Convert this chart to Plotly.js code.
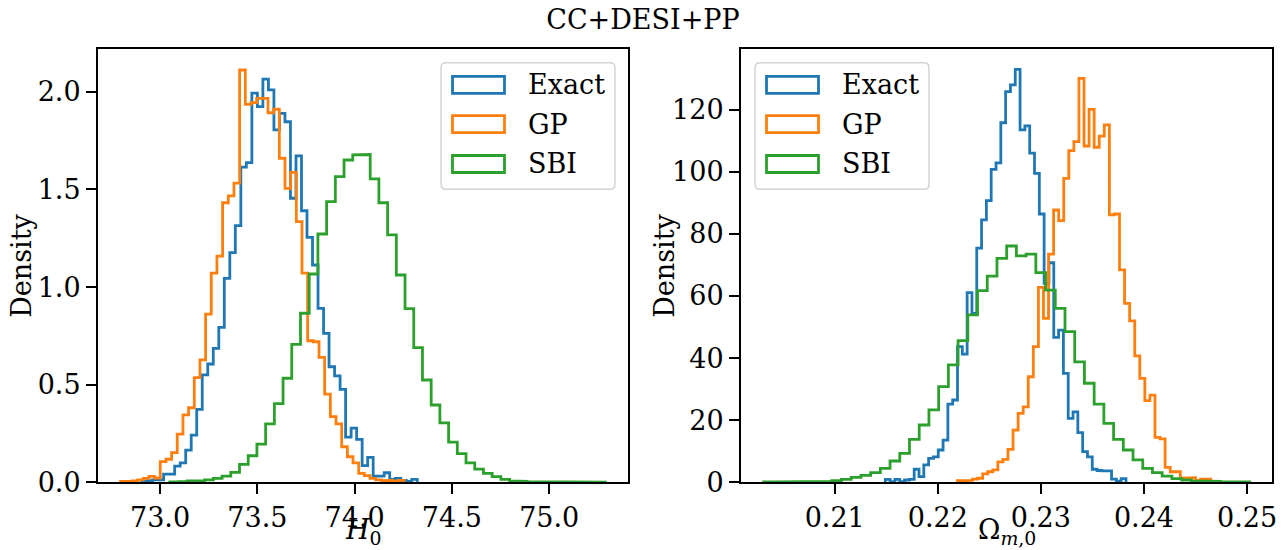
<!DOCTYPE html>
<html><head><meta charset="utf-8">
<script src="https://cdn.plot.ly/plotly-3.0.1.min.js"></script>
<style>html,body{margin:0;padding:0;background:#fff}#chart{width:1286px;height:550px}</style>
</head><body><div id="chart"></div>
<script>
// ---------------- data (density histograms, 50 bins each) ----------------
const seriesNames = ['Exact', 'GP', 'SBI'];
const seriesColors = ['#1f77b4', '#ff7f0e', '#2ca02c'];

// H0 panel: bin range [min, max] and densities
const H0_exact_range = [72.905, 74.322];
const H0_exact_density = [0.004,0.008,0.012,0.012,0.042,0.042,0.083,0.100,0.165,0.242,
  0.374,0.550,0.606,0.686,0.794,1.045,1.176,1.315,1.614,1.637,
  1.993,1.924,2.065,2.010,1.805,1.890,1.847,1.455,1.672,1.391,
  1.255,1.113,0.891,0.763,0.592,0.545,0.476,0.231,0.277,0.220,
  0.085,0.128,0.032,0.032,0.049,0.015,0.020,0.010,0.005,0.015];
const H0_gp_range = [72.797, 74.254];
const H0_gp_density = [0.004,0.005,0.007,0.012,0.020,0.030,0.022,0.106,0.118,0.152,
  0.247,0.345,0.382,0.536,0.627,0.861,1.071,1.159,1.432,1.467,
  1.532,2.112,1.936,1.945,1.967,1.967,1.893,1.911,1.660,1.506,
  1.588,1.335,1.071,0.725,0.720,0.640,0.452,0.336,0.299,0.182,
  0.131,0.100,0.046,0.034,0.020,0.012,0.008,0.010,0.006,0.010];
const H0_sbi_range = [73.050, 75.289];
const H0_sbi_density = [0.002,0.003,0.007,0.007,0.012,0.020,0.032,0.051,0.092,0.136,
  0.196,0.299,0.403,0.533,0.706,0.866,1.067,1.272,1.438,1.566,
  1.651,1.677,1.679,1.554,1.432,1.267,1.062,0.890,0.690,0.524,
  0.396,0.304,0.206,0.147,0.100,0.067,0.046,0.029,0.015,0.007,
  0.005,0.003,0.002,0.002,0.001,0.001,0.001,0.001,0.001,0.001];

// Omega_m0 panel
const Om_exact_range = [0.214908, 0.238254];
const Om_exact_density = [0.97,0.2,0.97,0.2,0.74,0.97,4.2,1.8,5.6,7.7,
  8.2,10.4,13.6,25.2,26.5,43.7,41.3,61.1,54.4,75.4,
  84.5,90.7,100.8,102.9,115.8,125.8,128.0,133.0,113.5,114.8,
  106.0,99.5,86.4,64.1,70.7,46.7,49.0,35.1,20.6,22.7,
  16.0,9.9,8.2,4.2,3.8,3.7,3.7,1.0,0.4,1.2];
const Om_gp_range = [0.221891, 0.246479];
const Om_gp_density = [0.5,0.5,0.6,1.0,1.3,2.7,3.4,4.0,6.6,7.4,
  10.6,16.8,22.2,24.3,34.0,43.7,62.8,52.8,73.5,87.7,
  84.3,97.9,106.8,109.7,130.1,108.3,120.1,107.9,111.5,115.1,
  86.1,86.4,68.4,57.6,52.0,40.7,33.5,26.3,28.1,14.5,
  14.0,4.8,3.4,3.4,1.3,1.5,1.5,0.6,1.0,1.0];
const Om_sbi_range = [0.203113, 0.250252];
const Om_sbi_density = [0.15,0.15,0.15,0.15,0.15,0.25,0.25,0.5,0.97,1.61,
  2.25,3.09,4.51,6.86,9.34,13.85,18.45,23.3,30.8,37.8,
  45.6,53.9,61.7,66.4,72.1,76.1,72.9,73.5,67.5,61.9,
  56.0,48.5,38.8,31.9,25.2,19.0,13.8,10.4,7.2,4.5,
  3.1,2.0,1.2,0.74,0.45,0.3,0.3,0.15,0.15,0.15];

const H0_xticks = [73.0, 73.5, 74.0, 74.5, 75.0];
const H0_yticks = [0.0, 0.5, 1.0, 1.5, 2.0];
const Om_xticks = [0.21, 0.22, 0.23, 0.24, 0.25];
const Om_yticks = [0, 20, 40, 60, 80, 100, 120];

const titleText = 'CC+DESI+PP';
const xTitles = ['<i>H</i><sub>0</sub>', 'Ω<sub><i>m</i>,0</sub>'];
const yTitle = 'Density';

// ---------------- helpers ----------------
function stepXY(range, dens) {
  const n = dens.length, w = (range[1] - range[0]) / n;
  const xs = [range[0]], ys = [0];
  for (let i = 0; i < n; i++) {
    xs.push(range[0] + i * w, range[0] + (i + 1) * w);
    ys.push(dens[i], dens[i]);
  }
  xs.push(range[1]); ys.push(0);
  return {xs, ys};
}

const FONT = 'DejaVu Serif, Liberation Serif, serif';
const FS = 27;
const W = 1286, H = 550;
const PX = x => x / W, PY = y => 1 - y / H;

const traces = [];
const panels = [
  {ranges: [H0_exact_range, H0_gp_range, H0_sbi_range], dens: [H0_exact_density, H0_gp_density, H0_sbi_density], xa: 'x', ya: 'y'},
  {ranges: [Om_exact_range, Om_gp_range, Om_sbi_range], dens: [Om_exact_density, Om_gp_density, Om_sbi_density], xa: 'x2', ya: 'y2'}
];
panels.forEach(p => {
  for (let s = 0; s < 3; s++) {
    const st = stepXY(p.ranges[s], p.dens[s]);
    traces.push({
      type: 'scatter', mode: 'lines', x: st.xs, y: st.ys, xaxis: p.xa, yaxis: p.ya,
      name: seriesNames[s], showlegend: false, hoverinfo: 'skip',
      line: {color: seriesColors[s], width: 2.8, shape: 'linear'}
    });
  }
});

// legend drawn as outlined patches (matplotlib style)
function roundRect(x0, y0, x1, y1, r) {
  return `M${PX(x0+r)},${PY(y0)} L${PX(x1-r)},${PY(y0)} Q${PX(x1)},${PY(y0)} ${PX(x1)},${PY(y0+r)} ` +
         `L${PX(x1)},${PY(y1-r)} Q${PX(x1)},${PY(y1)} ${PX(x1-r)},${PY(y1)} L${PX(x0+r)},${PY(y1)} ` +
         `Q${PX(x0)},${PY(y1)} ${PX(x0)},${PY(y1-r)} L${PX(x0)},${PY(y0+r)} Q${PX(x0)},${PY(y0)} ${PX(x0+r)},${PY(y0)} Z`;
}
const shapes = [], annotations = [];
[441, 755].forEach(lx => {
  shapes.push({type: 'path', xref: 'paper', yref: 'paper', path: roundRect(lx, 62.7, lx + 174, 189.3, 5),
    fillcolor: 'rgba(255,255,255,0.8)', line: {color: '#d3d3d3', width: 1.5}, layer: 'above'});
  const rows = [84.8, 124.2, 164.0];
  rows.forEach((cy, i) => {
    shapes.push({type: 'rect', xref: 'paper', yref: 'paper',
      x0: PX(lx + 11.5), x1: PX(lx + 63.5), y0: PY(cy - 8.5), y1: PY(cy + 8.5),
      fillcolor: 'rgba(0,0,0,0)', line: {color: seriesColors[i], width: 2.8}, layer: 'above'});
    annotations.push({xref: 'paper', yref: 'paper', x: PX(lx + 85), y: PY(cy), xanchor: 'left', yanchor: 'middle',
      text: seriesNames[i], showarrow: false, font: {family: FONT, size: FS, color: '#000'}});
  });
});
// axis titles
[[363, xTitles[0]], [1006.5, xTitles[1]]].forEach(([cx, t]) => {
  annotations.push({xref: 'paper', yref: 'paper', x: PX(cx), y: 0, xanchor: 'center', yanchor: 'bottom',
    borderpad: 0, text: t, showarrow: false, font: {family: FONT, size: FS, color: '#000'}});
});
[22, 665].forEach(cx => {
  annotations.push({xref: 'paper', yref: 'paper', x: PX(cx), y: PY(265.8), xanchor: 'center', yanchor: 'middle',
    textangle: -90, text: yTitle, showarrow: false, font: {family: FONT, size: FS, color: '#000'}});
});

const axCommon = {
  showline: true, mirror: true, linecolor: '#000', linewidth: 2,
  ticks: 'outside', ticklen: 10, tickwidth: 2, tickcolor: '#000',
  showgrid: false, zeroline: false, tickfont: {family: FONT, size: FS, color: '#000'},
  automargin: false
};

const layout = {
  width: W, height: H,
  margin: {l: 0, r: 0, t: 0, b: 0},
  paper_bgcolor: '#fff', plot_bgcolor: '#fff',
  showlegend: false,
  title: {text: titleText, x: 0.5, xanchor: 'center', y: PY(20), yanchor: 'middle',
    font: {family: FONT, size: FS, color: '#000'}},
  xaxis: Object.assign({}, axCommon, {domain: [PX(98), PX(628)], range: [72.681, 75.405],
    tickvals: H0_xticks, ticktext: H0_xticks.map(v => v.toFixed(1)), anchor: 'y'}),
  yaxis: Object.assign({}, axCommon, {domain: [PY(482.3), PY(49.3)], range: [0, 2.218],
    tickvals: H0_yticks, ticktext: H0_yticks.map(v => v.toFixed(1)), anchor: 'x'}),
  xaxis2: Object.assign({}, axCommon, {domain: [PX(741), PX(1272)], range: [0.20091, 0.25242],
    tickvals: Om_xticks, ticktext: Om_xticks.map(v => v.toFixed(2)), anchor: 'y2'}),
  yaxis2: Object.assign({}, axCommon, {domain: [PY(482.3), PY(49.3)], range: [0, 139.45],
    tickvals: Om_yticks, ticktext: Om_yticks.map(v => String(v)), anchor: 'x2'}),
  shapes: shapes,
  annotations: annotations
};

Plotly.newPlot('chart', traces, layout, {staticPlot: true, displayModeBar: false});
</script>
</body></html>
